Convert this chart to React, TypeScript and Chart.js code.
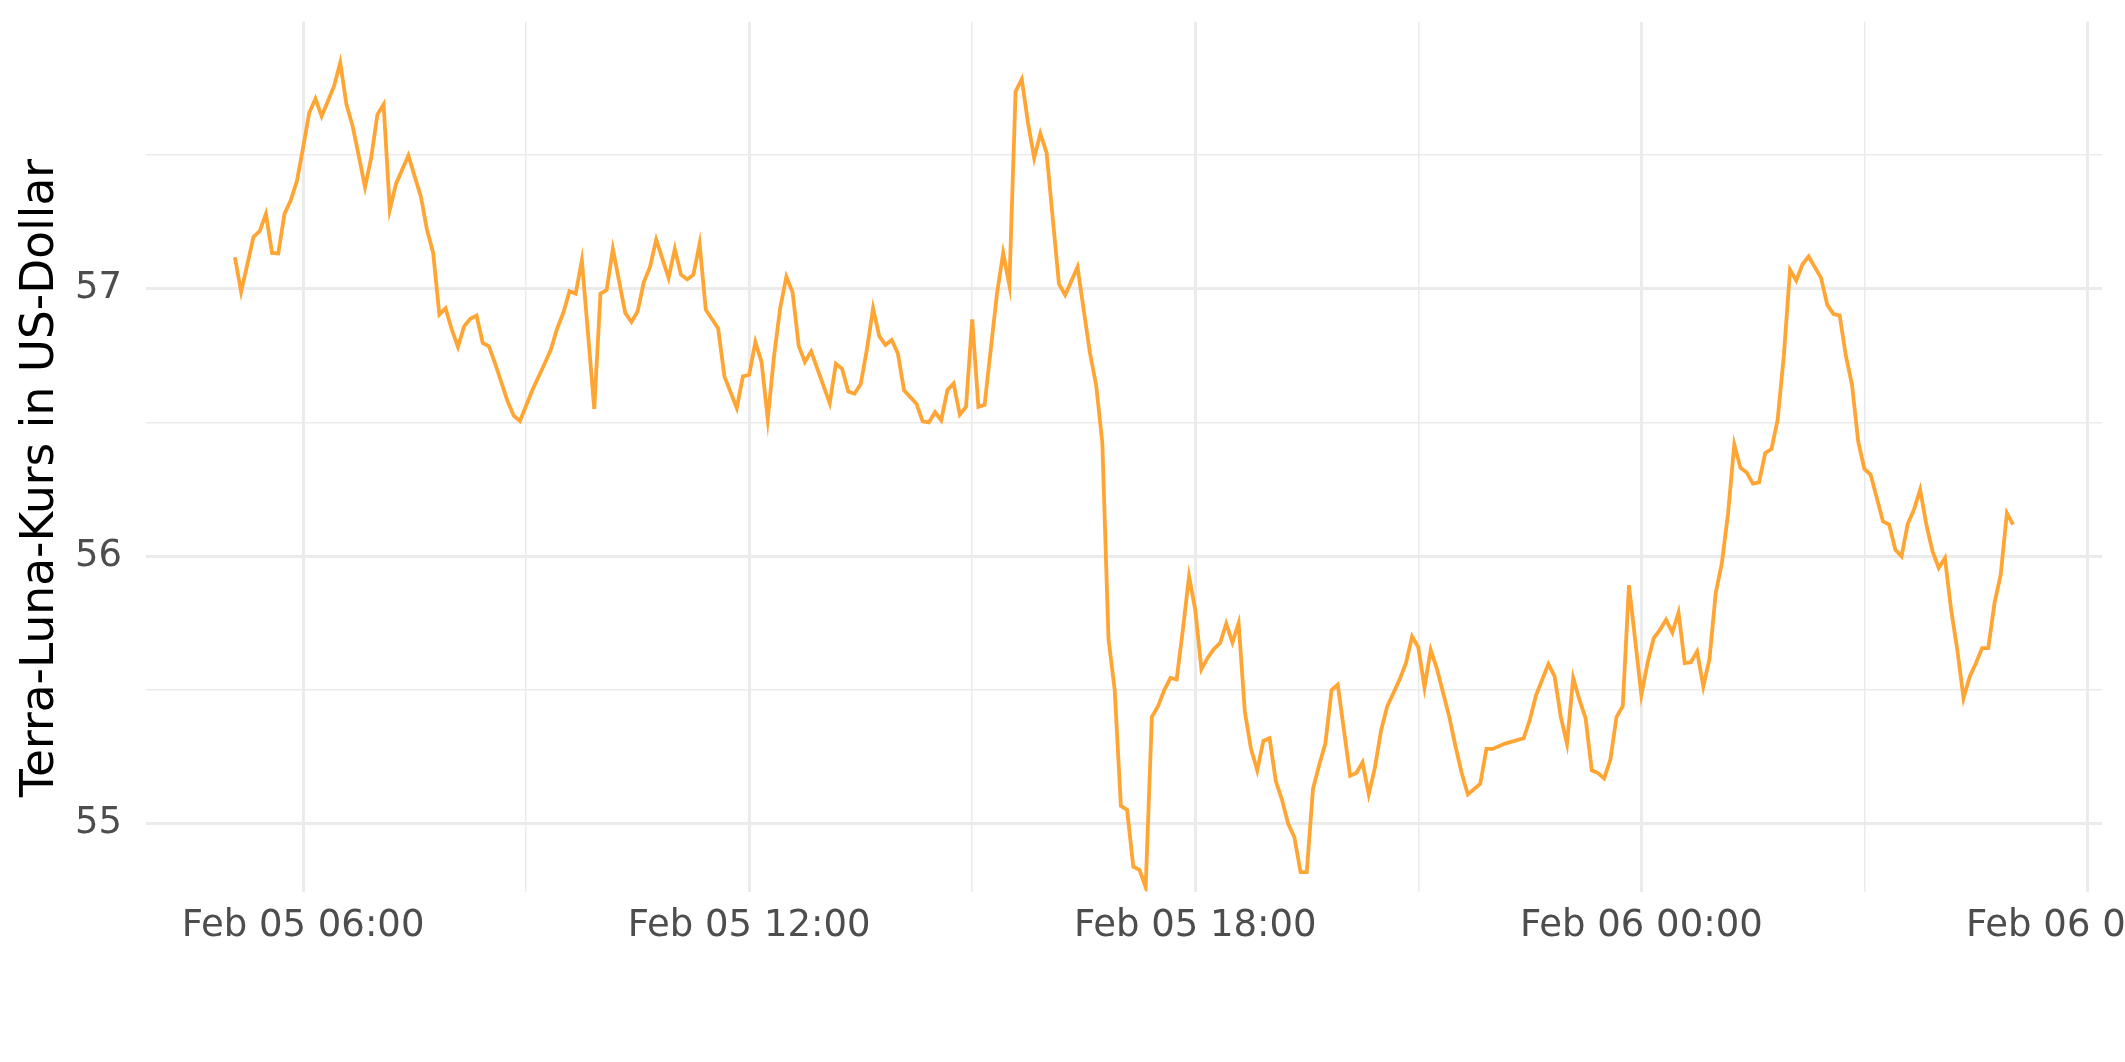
import React, { useEffect, useRef } from "react";
import { Chart, registerables } from "chart.js";

Chart.register(...registerables);

// minutes since Feb 05 00:00
const minutes = [
  305, 310, 315, 320, 325, 330, 335, 340, 345, 350,
  355, 360, 365, 370, 375, 380, 385, 390, 395, 400,
  405, 410, 415, 420, 425, 430, 435, 440, 445, 450,
  455, 460, 465, 470, 475, 480, 485, 490, 495, 500,
  505, 510, 515, 520, 525, 530, 535, 545, 555, 560,
  565, 570, 575, 580, 585, 590, 595, 600, 605, 610,
  620, 625, 630, 635, 640, 645, 655, 660, 665, 670,
  675, 680, 685, 695, 700, 710, 715, 720, 725, 730,
  735, 740, 745, 750, 755, 760, 765, 770, 785, 790,
  795, 800, 805, 810, 815, 820, 825, 830, 835, 840,
  845, 855, 860, 865, 870, 875, 880, 885, 890, 895,
  900, 905, 910, 915, 920, 925, 930, 935, 940, 945,
  950, 955, 960, 970, 975, 985, 990, 995, 1000, 1005,
  1010, 1015, 1020, 1025, 1030, 1035, 1040, 1045, 1050, 1055,
  1060, 1065, 1070, 1075, 1080, 1085, 1090, 1095, 1100, 1105,
  1110, 1115, 1120, 1125, 1130, 1135, 1140, 1145, 1150, 1155,
  1160, 1165, 1170, 1175, 1180, 1185, 1190, 1195, 1200, 1205,
  1210, 1215, 1220, 1225, 1230, 1235, 1240, 1245, 1250, 1255,
  1260, 1265, 1270, 1275, 1280, 1285, 1290, 1295, 1300, 1305,
  1310, 1315, 1320, 1330, 1345, 1350, 1355, 1365, 1370, 1375,
  1380, 1385, 1390, 1395, 1400, 1405, 1410, 1415, 1420, 1425,
  1430, 1435, 1440, 1445, 1450, 1455, 1460, 1465, 1470, 1475,
  1480, 1485, 1490, 1495, 1500, 1505, 1510, 1515, 1520, 1525,
  1530, 1535, 1540, 1545, 1550, 1555, 1560, 1565, 1570, 1575,
  1580, 1585, 1590, 1595, 1600, 1605, 1610, 1615, 1620, 1625,
  1630, 1635, 1640, 1645, 1650, 1655, 1660, 1665, 1670, 1675,
  1680, 1685, 1690, 1695, 1700, 1705, 1710, 1715, 1720, 1725,
  1730, 1735, 1740,
];

// Terra-Luna price in US-Dollar
const price = [
  57.117, 56.988, 57.09, 57.193, 57.214, 57.279, 57.133, 57.131, 57.279, 57.329,
  57.401, 57.526, 57.657, 57.709, 57.644, 57.7, 57.756, 57.844, 57.688, 57.607,
  57.495, 57.379, 57.489, 57.65, 57.688, 57.295, 57.391, 57.445, 57.497, 57.42,
  57.345, 57.22, 57.133, 56.903, 56.926, 56.847, 56.782, 56.859, 56.887, 56.899,
  56.797, 56.784, 56.72, 56.65, 56.58, 56.525, 56.505, 56.62, 56.72, 56.772,
  56.85, 56.909, 56.99, 56.981, 57.105, 56.83, 56.55, 56.981, 56.994, 57.148,
  56.909, 56.875, 56.915, 57.024, 57.081, 57.183, 57.04, 57.148, 57.052, 57.034,
  57.052, 57.167, 56.921, 56.851, 56.672, 56.554, 56.672, 56.678, 56.8, 56.726,
  56.512, 56.744, 56.926, 57.044, 56.987, 56.786, 56.726, 56.765, 56.572, 56.719,
  56.7, 56.615, 56.607, 56.643, 56.772, 56.926, 56.822, 56.789, 56.808, 56.758,
  56.62, 56.57, 56.504, 56.5, 56.538, 56.508, 56.62, 56.645, 56.529, 56.558,
  56.885, 56.558, 56.566, 56.774, 56.981, 57.133, 57.012, 57.736, 57.782, 57.62,
  57.488, 57.579, 57.508, 57.017, 56.976, 57.08, 56.92, 56.76, 56.64, 56.424,
  55.69, 55.5, 55.067, 55.052, 54.84, 54.828, 54.763, 55.4, 55.44, 55.5,
  55.545, 55.54, 55.725, 55.925, 55.8, 55.578, 55.62, 55.653, 55.675, 55.748,
  55.678, 55.75, 55.42, 55.28, 55.2, 55.31, 55.32, 55.16, 55.09, 55.0,
  54.95, 54.82, 54.82, 55.13, 55.22, 55.3, 55.5, 55.52, 55.35, 55.18,
  55.19, 55.23, 55.11, 55.21, 55.35, 55.44, 55.49, 55.54, 55.6, 55.7,
  55.66, 55.51, 55.65, 55.58, 55.49, 55.4, 55.29, 55.19, 55.11, 55.13,
  55.15, 55.28, 55.28, 55.3, 55.32, 55.389, 55.48, 55.597, 55.551, 55.4,
  55.3, 55.545, 55.464, 55.395, 55.2, 55.19, 55.17, 55.24, 55.4, 55.44,
  55.892, 55.688, 55.482, 55.601, 55.694, 55.725, 55.763, 55.715, 55.79, 55.601,
  55.604, 55.644, 55.513, 55.616, 55.862, 55.975, 56.161, 56.417, 56.33, 56.313,
  56.271, 56.276, 56.386, 56.4, 56.51, 56.75, 57.07, 57.03, 57.09, 57.12,
  57.08, 57.04, 56.94, 56.905, 56.9, 56.75, 56.64, 56.429, 56.326, 56.305,
  56.218, 56.13, 56.118, 56.024, 56.0, 56.121, 56.174, 56.249, 56.118, 56.018,
  55.956, 55.993, 55.8, 55.65, 55.47, 55.55, 55.6, 55.657, 55.657, 55.825,
  55.931, 56.161, 56.118,
];

const xTicks = [360, 540, 720, 900, 1080, 1260, 1440, 1620, 1800];
const yTicks = [55, 55.5, 56, 56.5, 57, 57.5];
const yLabelTicks = [55, 56, 57];
const yAxisMin = 54.747;
const yAxisMax = 57.997;
const yTitle = "Terra-Luna-Kurs in US-Dollar";

const pad2 = (n: number) => (n < 10 ? "0" + n : "" + n);
const fmtTime = (m: number) => {
  const day = 5 + Math.floor(m / 1440);
  const h = Math.floor((m % 1440) / 60);
  const mm = Math.round(m % 60);
  return "Feb " + pad2(day) + " " + pad2(h) + ":" + pad2(mm);
};

const yTitlePlugin = {
  id: "yTitleText",
  afterDraw(chart: any) {
    const ctx = chart.ctx;
    ctx.save();
    ctx.translate(41, 478);
    ctx.rotate(-Math.PI / 2);
    ctx.font = '45.5px "DejaVu Sans"';
    ctx.fillStyle = "#000000";
    ctx.textAlign = "center";
    ctx.textBaseline = "middle";
    ctx.fillText(yTitle, 0, 0);
    ctx.restore();
  },
};

export default function App() {
  const ref = useRef<HTMLCanvasElement | null>(null);
  useEffect(() => {
    if (!ref.current) return;
    const xMin = Math.min(...minutes);
    const xMax = Math.max(...minutes);
    const xr = xMax - xMin;
    const chart = new Chart(ref.current, {
      type: "line",
      data: {
        datasets: [
          {
            data: minutes.map((m, i) => ({ x: m, y: price[i] })),
            borderColor: "#FFA533",
            borderWidth: 3.8,
            pointRadius: 0,
            tension: 0,
            fill: false,
          },
        ],
      },
      options: {
        animation: false,
        responsive: false,
        devicePixelRatio: 1,
        layout: { padding: { left: 10, right: 23, top: 21.7, bottom: 100.4 } },
        plugins: { legend: { display: false }, tooltip: { enabled: false } },
        scales: {
          x: {
            type: "linear",
            min: xMin - 0.05 * xr,
            max: xMax + 0.05 * xr,
            afterBuildTicks: (scale: any) => {
              scale.ticks = xTicks.map((v) => ({ value: v }));
            },
            afterFit: (scale: any) => {
              scale.paddingLeft = 0;
              scale.paddingRight = 0;
              scale.height = 70;
            },
            border: { display: false },
            grid: {
              color: "#EBEBEB",
              lineWidth: (ctx: any) => (ctx.tick && ctx.tick.value % 360 === 0 ? 3 : 1.5),
              drawTicks: false,
            },
            ticks: {
              autoSkip: false,
              maxRotation: 0,
              padding: 12.7,
              color: "#4D4D4D",
              font: { family: "DejaVu Sans", size: 37 },
              callback: (v: any) => (Number(v) % 360 === 0 ? fmtTime(Number(v)) : ""),
            },
          },
          y: {
            type: "linear",
            min: yAxisMin,
            max: yAxisMax,
            afterBuildTicks: (scale: any) => {
              scale.ticks = yTicks.map((v) => ({ value: v }));
            },
            afterFit: (scale: any) => {
              scale.width = 136;
              scale.paddingTop = 0;
              scale.paddingBottom = 0;
            },
            border: { display: false },
            grid: {
              color: "#EBEBEB",
              lineWidth: (ctx: any) => (ctx.tick && yLabelTicks.includes(ctx.tick.value) ? 3 : 1.5),
              drawTicks: false,
            },
            ticks: {
              autoSkip: false,
              padding: 24,
              color: "#4D4D4D",
              font: { family: "DejaVu Sans", size: 37 },
              callback: (v: any) => (yLabelTicks.includes(Number(v)) ? String(v) : ""),
            },
          },
        },
      },
      plugins: [yTitlePlugin],
    });
    return () => chart.destroy();
  }, []);
  return (
    <div style={{ position: "absolute", left: 0, top: 0, width: 2125, height: 1062, overflow: "hidden", background: "#fff" }}>
      <canvas ref={ref} width={2125} height={1062} style={{ display: "block" }} />
    </div>
  );
}
